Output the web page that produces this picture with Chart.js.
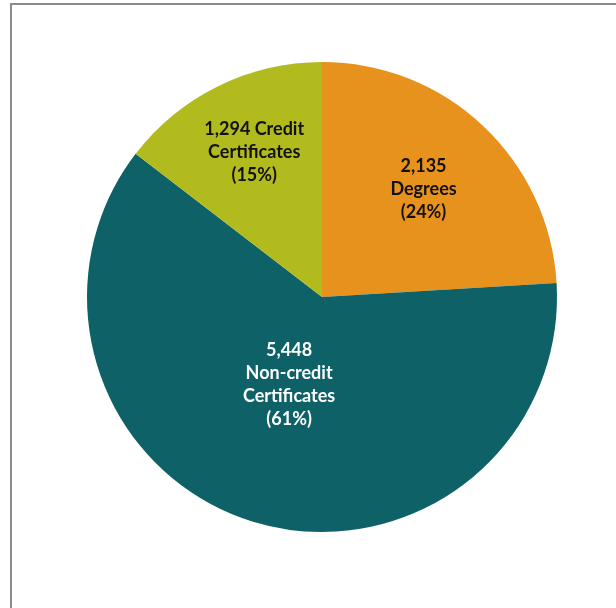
<!DOCTYPE html>
<html>
<head>
<meta charset="utf-8">
<script src="https://cdn.jsdelivr.net/npm/chart.js@4/dist/chart.umd.min.js"></script>
<style>
  html, body { margin: 0; padding: 0; background: #ffffff; }
  #wrap { position: relative; width: 616px; height: 608px; overflow: hidden; }
  #frame {
    position: absolute; left: 10px; top: 3px; width: 700px; height: 700px;
    border-left: 2px solid #8a8a8a; border-top: 2px solid #8a8a8a;
  }
  canvas { position: absolute; left: 0; top: 0; }
</style>
</head>
<body>
<div id="wrap">
  <div id="frame"></div>
  <canvas id="chart" width="616" height="608"></canvas>
</div>
<script>
// Awards by type
const categories = ['Degrees', 'Non-credit\nCertificates', 'Credit\nCertificates'];
const awards = [2135, 5448, 1294];
const percents = [24, 61, 15];
const sliceColors = ['#E8921E', '#0F6168', '#B2BB1E'];
const labelColors = ['#111111', '#ffffff', '#111111'];

// Slice labels drawn inside each wedge
const sliceLabels = {
  id: 'sliceLabels',
  afterDatasetsDraw(chart, args, opts) {
    const ctx = chart.ctx;
    const meta = chart.getDatasetMeta(0);
    ctx.save();
    ctx.font = opts.font;
    ctx.textAlign = 'center';
    ctx.textBaseline = 'middle';
    meta.data.forEach((arc, i) => {
      const mid = (arc.startAngle + arc.endAngle) / 2 + opts.angleShift[i];
      const r = arc.outerRadius * opts.radiusFraction[i];
      const x = arc.x + Math.cos(mid) * r;
      const y = arc.y + Math.sin(mid) * r;
      const value = awards[i].toLocaleString('en-US');
      const name = categories[i].split('\n');
      let lines;
      if (i === 2) {
        lines = [value + ' ' + name[0], name[1], '(' + percents[i] + '%)'];
      } else {
        lines = [value].concat(name, ['(' + percents[i] + '%)']);
      }
      ctx.fillStyle = labelColors[i];
      const lh = opts.lineHeight;
      const top = y - (lines.length - 1) * lh / 2;
      lines.forEach((t, k) => ctx.fillText(t, x, top + k * lh));
    });
    ctx.restore();
  }
};

new Chart(document.getElementById('chart'), {
  type: 'pie',
  data: {
    labels: categories,
    datasets: [{
      data: awards,
      backgroundColor: sliceColors,
      borderWidth: 0
    }]
  },
  options: {
    responsive: false,
    animation: false,
    layout: { padding: { left: 87, right: 59, top: 62, bottom: 76 } },
    plugins: {
      legend: { display: false },
      tooltip: { enabled: false },
      sliceLabels: {
        font: 'bold 18px Lato, "Open Sans", sans-serif',
        lineHeight: 23,
        radiusFraction: [0.63, 0.40, 0.68],
        angleShift: [0, 0.06, 0.02]
      }
    }
  },
  plugins: [sliceLabels]
});
</script>
</body>
</html>
